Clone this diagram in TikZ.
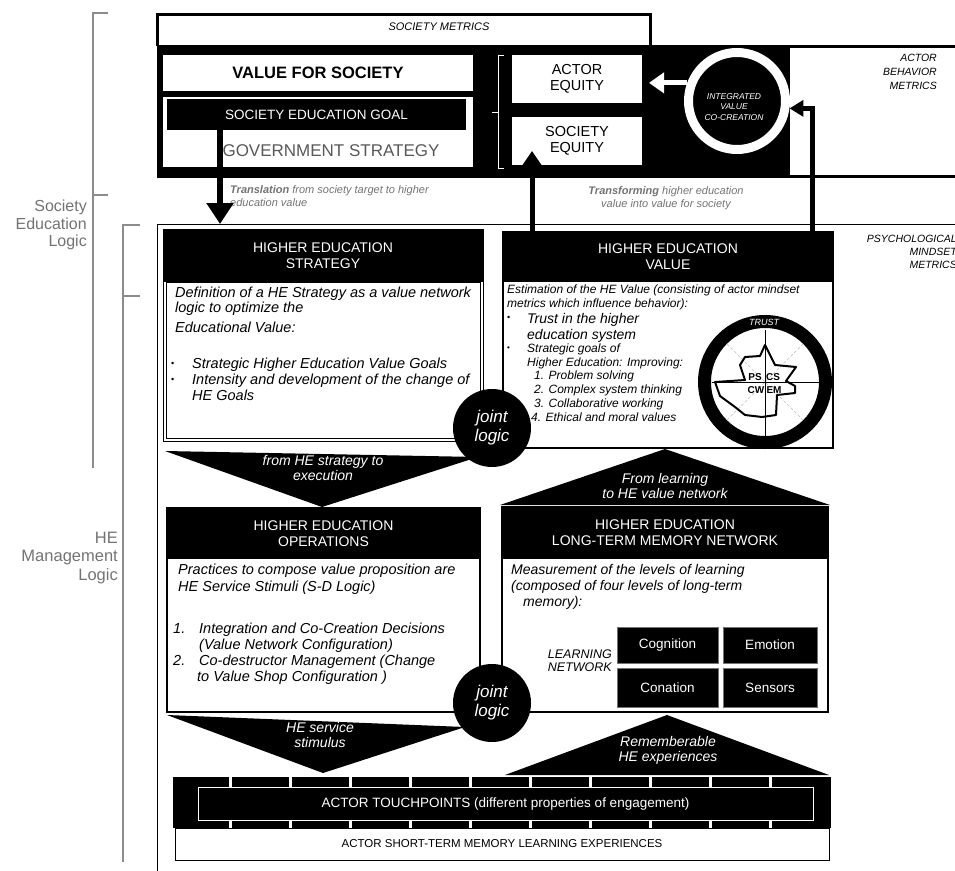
\documentclass[tikz,border=0pt]{standalone}
\usepackage{fontspec}
\setmainfont{Liberation Sans}
\usetikzlibrary{arrows.meta,calc}
\newcommand\fsz[2]{\fontsize{#1}{#2}\selectfont}
\definecolor{brkgray}{gray}{0.55}
\definecolor{txtgray}{gray}{0.45}
\definecolor{govgray}{gray}{0.35}
\begin{document}
\begin{tikzpicture}[x=1pt,y=-1pt,
  brk/.style={draw=brkgray,line width=1.3pt},
  sidelabel/.style={text=txtgray,font=\fsz{16}{17.5},align=right,anchor=east,inner sep=0pt},
  rbox/.style={rectangle,anchor=north west,inner sep=0pt,outer sep=0pt},
  wbox/.style={rbox,fill=white},
  bbox/.style={rbox,fill=black},
  htext/.style={text=white,font=\fsz{14}{16},align=center,inner sep=0pt},
  sline/.style={anchor=base west,inner sep=0pt,font=\itshape\fsz{14.5}{16}},
  vline/.style={anchor=base west,inner sep=0pt,font=\itshape\fsz{12}{14}},
  bul/.style={anchor=base west,inner sep=0pt,font=\fsz{9}{9}},
  chevtext/.style={text=white,font=\itshape\fsz{14}{15},align=center,inner sep=0pt},
  jlogic/.style={circle,fill=black,minimum size=78pt,text=white,font=\itshape\fsz{17}{19},align=center,inner sep=0pt},
  lnbox/.style={rbox,fill=black,draw=black!55,line width=0.6pt,text=white,font=\fsz{13.5}{15}},
  metric/.style={font=\itshape\fsz{10.5}{12.8},align=right,anchor=north east,inner sep=0pt},
  rlabel/.style={font=\bfseries\fsz{10}{10},inner sep=0pt},
]
\useasboundingbox (0,0) rectangle (955,870);
\clip (0,0) rectangle (955,870);

% ---------- left brackets ----------
\draw[brk] (108,13) -- (93,13) -- (93,468);
\draw[brk] (93,195) -- (108,195);
\node[sidelabel] (sel) at (87,225) {Society\\Education\\Logic};
\draw[brk] (140,225) -- (123,225) -- (123,862);
\draw[brk] (123,296) -- (140,296);
\node[sidelabel,font=\fsz{16.5}{18.5}] (hml) at (118,558) {HE\\Management\\Logic};

% ---------- top band ----------
\draw[line width=3pt] (157,46) -- (157,14.5) -- (650,14.5) -- (650,46);
\node[font=\itshape\fsz{11}{12},inner sep=0pt] (smet) at (439,27) {SOCIETY METRICS};
\node[bbox,minimum width=803pt,minimum height=133pt] (band) at (157,45) {};
\node[rbox,fill=white,minimum width=170pt,minimum height=127pt] (abm) at (790,48) {};
\node[metric,font=\itshape\fsz{10.5}{14}] (abmt) at (937,54) {ACTOR\\BEHAVIOR\\METRICS};

\node[wbox,minimum width=310pt,minimum height=36pt,font=\bfseries\fsz{16.5}{18}] (vfs) at (163,55) {VALUE FOR SOCIETY};
\node[wbox,minimum width=310pt,minimum height=70pt] (gsb) at (163,97) {};
\node[bbox,minimum width=299pt,minimum height=31pt,text=white,font=\fsz{13.5}{15}] (seg) at (167,99) {SOCIETY EDUCATION GOAL};
\node[text=govgray,font=\fsz{17}{19},inner sep=0pt] (gov) at (331,151) {GOVERNMENT STRATEGY};

\draw[white,line width=1pt] (504,55) -- (498,55) -- (498,168) -- (504,168);
\draw[white,line width=1pt] (498,112) -- (492,112);
\node[wbox,minimum width=130pt,minimum height=48pt,align=center,font=\fsz{14.5}{16}] (aeq) at (512,55) {ACTOR\\EQUITY};
\node[wbox,minimum width=130pt,minimum height=48pt,align=center,font=\fsz{14.5}{16}] (seq) at (512,117) {SOCIETY\\EQUITY};

\node[circle,fill=black,draw=white,line width=9pt,minimum size=97pt,inner sep=0pt] (ivc) at (737,101) {};
\node[text=white,align=center,font=\itshape\fsz{8.5}{10.5},inner sep=0pt] (ivct) at (734,107) {INTEGRATED\\VALUE\\CO-CREATION};

\node[inner sep=0pt,anchor=north west,text=txtgray,font=\itshape\fsz{11}{13.5},align=left] (trl) at (230,185) {\textbf{Translation} from society target to higher\\education value};
\node[inner sep=0pt,text=txtgray,font=\itshape\fsz{11}{13.5},align=center] (trf) at (666,198) {\textbf{Transforming} higher education\\value into value for society};

\node[metric] (pmm) at (957,235) {PSYCHOLOGICAL\\MINDSET\\METRICS};

% ---------- frame ----------
\draw[line width=1pt] (157,872) -- (157,224) -- (960,224);

% ---------- HE strategy ----------
\node[rbox,draw=black,line width=0.8pt,fill=white,minimum width=320pt,minimum height=212pt] (hes) at (163,229) {};
\draw[line width=0.8pt] (166,282) rectangle (480,438);
\node[bbox,minimum width=320pt,minimum height=53pt] (hesh) at (163,229) {};
\node[htext] (hest) at (hesh.center) {HIGHER EDUCATION\\STRATEGY};
\node[sline] (s1) at (175,297) {Definition of a HE Strategy as a value network};
\node[sline] (s2) at (175,312) {logic to optimize the};
\node[sline] (s3) at (175,332) {Educational Value:};
\node[bul] (b1) at (171,366) {\textbullet};
\node[sline] (s4) at (192,368) {Strategic Higher Education Value Goals};
\node[bul] (b2) at (171,382) {\textbullet};
\node[sline] (s5) at (192,384) {Intensity and development of the change of};
\node[sline] (s6) at (192,400) {HE Goals};

% ---------- HE value ----------
\node[rbox,draw=black,line width=1.2pt,fill=white,minimum width=330pt,minimum height=216pt] (hev) at (503,232) {};
\node[bbox,minimum width=330pt,minimum height=50pt] (hevh) at (503,232) {};
\node[htext] (hevt) at (hevh.center) {HIGHER EDUCATION\\VALUE};
\node[vline] (v1) at (507,293) {Estimation of the HE Value (consisting of actor mindset};
\node[vline] (v2) at (507,307) {metrics which influence behavior):};
\node[bul] (vb1) at (507,320) {\textbullet};
\node[sline,font=\itshape\fsz{14}{16}] (v3) at (527,323) {Trust in the higher};
\node[sline,font=\itshape\fsz{14}{16}] (v4) at (527,339) {education system};
\node[bul,font=\fsz{8}{8}] (vb2) at (507,350) {\textbullet};
\node[vline] (v5) at (527,352) {Strategic goals of};
\node[vline] (v6) at (527,366) {Higher Education: Improving:};
\node[vline] (v7) at (534,379) {1. Problem solving};
\node[vline] (v8) at (534,393) {2. Complex system thinking};
\node[vline] (v9) at (534,407) {3. Collaborative working};
\node[vline] (v10) at (531,421) {4. Ethical and moral values};

% radar
\node[circle,draw=black,fill=white,line width=13pt,minimum size=121pt,inner sep=0pt] (radar) at (765,382) {};
\draw[gray!50,densely dashed,line width=0.5pt] (radar.center) ++(-38,-38) -- ++(76,76);
\draw[gray!50,densely dashed,line width=0.5pt] (radar.center) ++(-38,38) -- ++(76,-76);
\draw[line width=0.8pt] (765,330) -- (765,443);
\draw[line width=0.8pt] (712,382) -- (822,382);
\draw[line width=2pt,line join=round] (765,345) -- (775,365) -- (796,367) -- (786,381) -- (795,386) -- (795,393) -- (777,395) -- (776,415) -- (762,417) -- (745,415) -- (735,407) -- (720,396) -- (715,382) -- (745,380) -- (740,365) -- (745,357) -- (760,356) -- cycle;
\node[font=\itshape\fsz{9}{9},text=white,inner sep=0pt] (trust) at (764,322) {TRUST};
\node[rlabel] (ps) at (755,377) {PS};
\node[rlabel] (cs) at (773,377) {CS};
\node[rlabel] (cw) at (756,390) {CW};
\node[rlabel] (em) at (774,390) {EM};

% ---------- arrows in the top part ----------
\draw[line width=6pt,-{Triangle[width=26pt,length=21pt]}] ([xshift=53pt]seg.south west) -- ([xshift=57pt,yshift=5pt]hes.north west);
\draw[line width=5pt,-{Triangle[width=18pt,length=14pt]}] ([xshift=29pt]hev.north west) -- ([xshift=20pt,yshift=14pt]seq.south west);
\draw[line width=5pt,-{Triangle[width=16pt,length=14pt]}] ([xshift=-21pt]hev.north east) |- (ivc.-8);
\draw[white,line width=5pt,-{Triangle[width=20pt,length=15pt]},shorten >=7pt] (ivc.160) -- (aeq.east |- ivc.160);

% ---------- operations ----------
\node[rbox,draw=black,line width=1.2pt,fill=white,minimum width=313pt,minimum height=204pt] (heo) at (167,508) {};
\node[bbox,minimum width=313pt,minimum height=51pt] (heoh) at (167,508) {};
\node[htext] (heot) at (heoh.center) {HIGHER EDUCATION\\OPERATIONS};
\node[sline] (o1) at (178,574) {Practices to compose value proposition are};
\node[sline] (o2) at (178,591) {HE Service Stimuli (S-D Logic)};
\node[sline] (o3) at (173,633) {1.};
\node[sline] (o4) at (199,633) {Integration and Co-Creation Decisions};
\node[sline] (o5) at (199,649) {(Value Network Configuration)};
\node[sline] (o6) at (173,665) {2.};
\node[sline] (o7) at (199,665) {Co-destructor Management (Change};
\node[sline] (o8) at (197,681) {to Value Shop Configuration )};

% ---------- long-term memory ----------
\node[rbox,draw=black,line width=1.2pt,fill=white,minimum width=326pt,minimum height=205pt] (ltm) at (502,507) {};
\node[bbox,minimum width=326pt,minimum height=52pt] (ltmh) at (502,507) {};
\node[htext] (ltmt) at (ltmh.center) {HIGHER EDUCATION\\LONG-TERM MEMORY NETWORK};
\node[sline,font=\itshape\fsz{14}{16}] (l1) at (511,574) {Measurement of the levels of learning};
\node[sline,font=\itshape\fsz{14}{16}] (l2) at (511,590) {(composed of four levels of long-term};
\node[sline,font=\itshape\fsz{14}{16}] (l3) at (523,606) {memory):};
\node[lnbox,minimum width=101pt,minimum height=36pt] (cog) at (617,627) {Cognition};
\node[lnbox,minimum width=94pt,minimum height=36pt] (emo) at (723,627) {Emotion};
\node[lnbox,minimum width=101pt,minimum height=39pt] (con) at (617,668) {Conation};
\node[lnbox,minimum width=94pt,minimum height=39pt] (sen) at (723,668) {Sensors};
\node[font=\itshape\fsz{12.5}{13},align=right,anchor=east,inner sep=0pt] (lnet) at (612,661) {LEARNING\\NETWORK};

% ---------- chevrons ----------
\fill (165,451) -- (478,457) -- (322,507) -- cycle;
\node[chevtext] (ch1t) at (323,468) {from HE strategy to\\execution};
\fill (500,505) -- (665,449) -- (830,505) -- cycle;
\node[chevtext] (ch2t) at (665,486) {From learning\\to HE value network};
\fill (167,715) -- (465,727) -- (323,773) -- cycle;
\node[chevtext] (ch3t) at (320,735) {HE service\\stimulus};
\fill (505,775) -- (667,715) -- (829,775) -- cycle;
\node[chevtext] (ch4t) at (668,750) {Rememberable\\HE experiences};

\node[jlogic] (jl1) at (492,428) {joint\\logic};
\node[jlogic] (jl2) at (492,703) {joint\\logic};

% ---------- touchpoints ----------
\fill (173,777) rectangle (831,828);
\foreach \gx in {230,290,...,770} {
  \fill[white] ({\gx-1.5},777) rectangle ({\gx+1.5},787);
  \fill[white] ({\gx-1.5},820) rectangle ({\gx+1.5},828);
}
\node[rbox,draw=white,line width=1pt,fill=black,minimum width=615pt,minimum height=33pt] (atp) at (198,787) {};
\node[text=white,font=\fsz{13.5}{15},inner sep=0pt] (atpt) at (atp.center) {ACTOR TOUCHPOINTS (different properties of engagement)};
\node[rbox,draw=black,line width=1pt,fill=white,minimum width=654pt,minimum height=32pt] (stm) at (175,828) {};
\node[font=\fsz{11.5}{13},inner sep=0pt] (stmt) at (stm.center) {ACTOR SHORT-TERM MEMORY LEARNING EXPERIENCES};
\end{tikzpicture}
\end{document}
